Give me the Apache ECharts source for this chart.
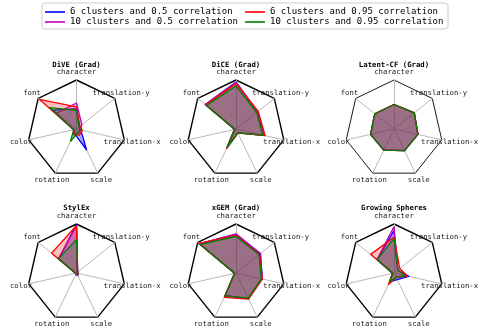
<!DOCTYPE html>
<html>
<head>
<meta charset="utf-8">
<script src="https://cdn.jsdelivr.net/npm/echarts@6/dist/echarts.min.js"></script>
<style>
html, body { margin: 0; padding: 0; background: #fff; }
#chart { width: 479px; height: 333px; }
</style>
</head>
<body>
<div id="chart"></div>
<script>
// Spoke names, listed clockwise from the top
const axisNames = ['character', 'translation-y', 'translation-x', 'scale', 'rotation', 'color', 'font'];

// Panel titles
const methods = ['DiVE (Grad)', 'DiCE (Grad)', 'Latent-CF (Grad)', 'StylEx', 'xGEM (Grad)', 'Growing Spheres'];

// Dataset configurations (series)
const seriesNames = [
  '6 clusters and 0.5 correlation',
  '10 clusters and 0.5 correlation',
  '6 clusters and 0.95 correlation',
  '10 clusters and 0.95 correlation'
];
const seriesColors = ['#0000ff', '#bf00bf', '#ff0000', '#008000'];

// Scores per method, one row per configuration (same order as seriesNames),
// values in axisNames order
const diveGrad = [
  [0.41, 0.07, 0.09, 0.47, 0.10, 0.06, 0.62],
  [0.53, 0.14, 0.08, 0.10, 0.10, 0.06, 0.52],
  [0.45, 0.09, 0.12, 0.14, 0.13, 0.06, 0.97],
  [0.38, 0.07, 0.08, 0.08, 0.28, 0.06, 0.70]
];
const diceGrad = [
  [0.96, 0.56, 0.58, 0.09, 0.42, 0.03, 0.80],
  [0.95, 0.57, 0.58, 0.09, 0.42, 0.03, 0.80],
  [0.93, 0.58, 0.61, 0.09, 0.44, 0.03, 0.79],
  [0.88, 0.54, 0.56, 0.09, 0.42, 0.03, 0.77]
];
const latentCfGrad = [
  [0.50, 0.53, 0.50, 0.49, 0.48, 0.49, 0.50],
  [0.50, 0.53, 0.50, 0.49, 0.48, 0.49, 0.50],
  [0.50, 0.53, 0.50, 0.49, 0.48, 0.49, 0.50],
  [0.50, 0.53, 0.50, 0.49, 0.48, 0.49, 0.50]
];
const stylEx = [
  [1.00, 0.03, 0.03, 0.04, 0.03, 0.02, 0.46],
  [0.97, 0.03, 0.04, 0.06, 0.04, 0.02, 0.47],
  [0.97, 0.02, 0.03, 0.03, 0.03, 0.02, 0.65],
  [0.68, 0.03, 0.03, 0.03, 0.03, 0.02, 0.47]
];
const xgemGrad = [
  [0.79, 0.64, 0.55, 0.58, 0.51, 0.03, 0.96],
  [0.80, 0.63, 0.55, 0.58, 0.52, 0.03, 0.95],
  [0.77, 0.61, 0.55, 0.59, 0.55, 0.03, 0.97],
  [0.75, 0.60, 0.53, 0.57, 0.52, 0.03, 0.93]
];
const growingSpheres = [
  [0.87, 0.10, 0.31, 0.15, 0.20, 0.03, 0.44],
  [0.95, 0.10, 0.27, 0.10, 0.22, 0.03, 0.44],
  [0.73, 0.15, 0.28, 0.10, 0.26, 0.03, 0.61],
  [0.70, 0.10, 0.23, 0.10, 0.20, 0.03, 0.44]
];

const panels = [diveGrad, diceGrad, latentCfGrad, stylEx, xgemGrad, growingSpheres];

// ECharts lays indicators out counter-clockwise, so walk the spokes backwards
const ccwOrder = [0, 6, 5, 4, 3, 2, 1];
const toCcw = vals => ccwOrder.map(i => vals[i]);

// Panel grid: 3 columns x 2 rows
const colX = [76.5, 236, 394];
const rowY = [129, 273];
const titleTop = [60.5, 204];
const R = 49;

const mono = 'DejaVu Sans Mono';

const radars = [];
const titles = [];
const series = [];

panels.forEach((rows, k) => {
  const cx = colX[k % 3];
  const cy = rowY[Math.floor(k / 3)];
  radars.push({
    center: [cx, cy],
    radius: R,
    startAngle: 90,
    shape: 'polygon',
    splitNumber: 1,
    nameGap: 8,
    indicator: ccwOrder.map(i => ({ name: axisNames[i], min: 0, max: 1 })),
    axisName: {
      color: '#222',
      fontFamily: mono,
      fontSize: 7.3,
      align: 'center',
      verticalAlign: 'middle'
    },
    axisLine: { lineStyle: { color: '#b8b8b8', width: 1 } },
    axisTick: { show: false },
    axisLabel: { show: false },
    splitLine: { lineStyle: { color: '#000', width: k === 2 ? 0.9 : 1.4 } },
    splitArea: { show: false }
  });
  titles.push({
    text: methods[k],
    left: cx,
    top: titleTop[Math.floor(k / 3)],
    textAlign: 'center',
    padding: 0,
    textStyle: { fontFamily: mono, fontWeight: 'bold', fontSize: 7.3, lineHeight: 9, color: '#000' }
  });
  rows.forEach((vals, j) => {
    series.push({
      type: 'radar',
      radarIndex: k,
      name: seriesNames[j],
      color: seriesColors[j],
      symbol: 'none',
      silent: true,
      lineStyle: { color: seriesColors[j], width: 1.3 },
      itemStyle: { color: seriesColors[j] },
      areaStyle: { color: seriesColors[j], opacity: 0.25 },
      data: [{ name: seriesNames[j], value: toCcw(vals) }]
    });
  });
});

const chart = echarts.init(document.getElementById('chart'), null, { renderer: 'canvas' });
chart.setOption({
  animation: false,
  backgroundColor: '#fff',
  title: titles,
  legend: {
    data: [seriesNames[0], seriesNames[2], seriesNames[1], seriesNames[3]],
    left: 42,
    top: 3,
    width: 406,
    orient: 'horizontal',
    icon: 'rect',
    itemWidth: 20,
    itemHeight: 1.6,
    itemGap: 0,
    padding: [4, 3, 2, 3],
    borderColor: '#cccccc',
    borderWidth: 1,
    borderRadius: 3,
    selectedMode: false,
    textStyle: { fontFamily: mono, fontSize: 9, color: '#000', width: 175, lineHeight: 10 }
  },
  radar: radars,
  series: series
});
</script>
</body>
</html>
